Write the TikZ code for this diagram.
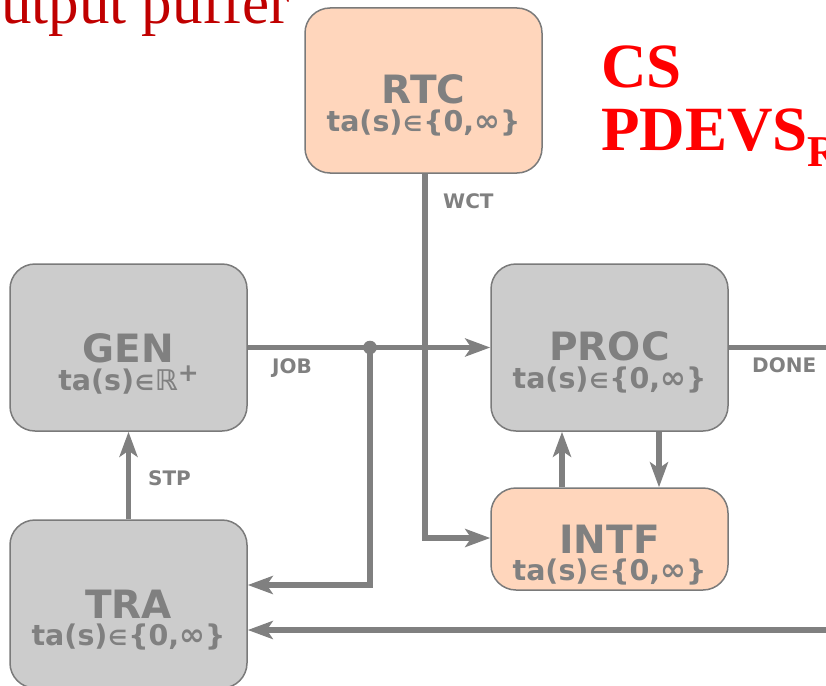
\documentclass[tikz,border=0pt]{standalone}
\usepackage{fontspec}
\setmainfont{DejaVu Sans}
\newfontfamily\redserif{Liberation Serif}
\usetikzlibrary{arrows.meta}
\definecolor{ink}{HTML}{808080}
\definecolor{edge}{HTML}{7A7A7A}
\definecolor{boxgray}{HTML}{CCCCCC}
\definecolor{peach}{RGB}{255,214,188}
\definecolor{darkred}{HTML}{C00000}
% small element-of sign used in the time-advance lines
\newcommand{\elemof}{{\fontsize{21}{21}\selectfont\kern1pt ∈\kern1pt}}
% slightly enlarged infinity sign
\newcommand{\infsign}{{\fontsize{31}{31}\selectfont ∞}}

\begin{document}
\begin{tikzpicture}[x=1pt,y=-1pt,
  block/.style={draw=edge, line width=1.5pt, rounded corners=25pt, minimum width=237pt, inner sep=0pt},
  gray block/.style={block, fill=boxgray},
  peach block/.style={block, fill=peach},
  ttl/.style={anchor=base, text=ink, inner sep=0pt, font=\fontsize{39}{39}\selectfont\bfseries},
  sub/.style={anchor=base, text=ink, inner sep=0pt, font=\fontsize{28.5}{28.5}\selectfont\bfseries},
  tag/.style={anchor=base west, text=ink, inner sep=0pt, font=\fontsize{20}{20}\selectfont\bfseries},
  wire/.style={draw=ink, line width=5.8pt},
  flow/.style={wire, -{Stealth[length=25pt,width=18pt,inset=6pt]}},
]
\useasboundingbox (0,0) rectangle (826,685);
\clip (0,0) rectangle (826,685);

% slide titles
\node[anchor=base east, inner sep=0pt, text=darkred, font=\redserif\fontsize{61}{61}\selectfont] (buf) at (290,24) {utput puffer};
\node[anchor=base west, inner sep=0pt, text=red, font=\redserif\bfseries\fontsize{63}{63}\selectfont] (cs) at (601,87) {CS};
\node[anchor=base west, inner sep=0pt, text=red, font=\redserif\bfseries\fontsize{63}{63}\selectfont] (pdevs) at (601,150) {PDEVS\raisebox{-16pt}{\fontsize{44}{44}\selectfont R}};

% model blocks
\node[peach block, minimum height=165pt] (rtc) at (423.5,90.5) {};
\node[gray block, minimum height=167pt] (gen) at (128.5,347.5) {};
\node[gray block, minimum height=167pt] (proc) at (609.5,347.5) {};
\node[peach block, minimum height=102pt] (intf) at (609.5,539) {};
\node[gray block, minimum height=168pt] (tra) at (128.5,604) {};

\node[ttl] (rtc-name) at ([yshift=-13pt]rtc.center) {RTC};
\node[sub] (rtc-ta) at ([yshift=-41pt]rtc.center) {ta(s)\elemof\{0,\infsign\}};
\node[ttl] (gen-name) at ([yshift=-14.5pt]gen.center) {GEN};
\node[sub] (gen-ta) at ([yshift=-43pt]gen.center) {ta(s)\elemof ℝ\raisebox{9pt}{\fontsize{25}{25}\selectfont +}};
\node[ttl] (proc-name) at ([yshift=-13pt]proc.center) {PROC};
\node[sub] (proc-ta) at ([yshift=-41pt]proc.center) {ta(s)\elemof\{0,\infsign\}};
\node[ttl] (intf-name) at ([yshift=-14pt]intf.center) {INTF};
\node[sub] (intf-ta) at ([yshift=-41pt]intf.center) {ta(s)\elemof\{0,\infsign\}};
\node[ttl] (tra-name) at ([yshift=-14pt]tra.center) {TRA};
\node[sub] (tra-ta) at ([yshift=-41pt]tra.center) {ta(s)\elemof\{0,\infsign\}};

% couplings
\coordinate (jn) at (370,347.5);
\coordinate (rout) at (832,347.5);
\coordinate (rin) at (832,630);
\draw[flow] (gen) -- (proc);
\fill[ink] (jn) circle[radius=6.8pt];
\draw[flow] (jn) |- ([yshift=19pt]tra.east);
\draw[wire] (proc) -- (rout);
\draw[flow] (rin) -- (rin -| tra.east);
\draw[flow] ([xshift=1.5pt]rtc.south) |- ([yshift=1pt]intf.west);
\draw[flow] (tra.north) -- (gen.south);
\draw[flow] ([xshift=-47.5pt]intf.north) -- ([xshift=-47.5pt]proc.south);
\draw[flow] ([xshift=49.5pt]proc.south) -- ([xshift=49.5pt]intf.north);

% port labels
\node[tag] (wct) at (443,208) {WCT};
\node[tag] (job) at (272,373) {JOB};
\node[tag] (done) at (752,372) {DONE};
\node[tag] (stp) at (148,485) {STP};
\end{tikzpicture}
\end{document}
